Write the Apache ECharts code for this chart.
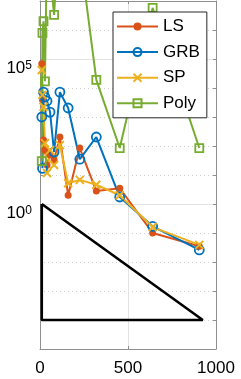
<!DOCTYPE html>
<html>
<head>
<meta charset="utf-8">
<script src="https://cdn.jsdelivr.net/npm/echarts@6/dist/echarts.min.js"></script>
<style>
html,body{margin:0;padding:0;background:#fff;}
#chart{width:241px;height:379px;}
</style>
</head>
<body>
<div id="chart"></div>
<script>
// ---- data ----
const xValues   = [10, 14, 20, 28, 40, 57, 80, 113, 160, 226, 320, 453, 640, 905];
const lsValues  = [6.8e4, 3.9e3, 160, 72, 22, 49, 33, 204, 2.0, 85, 2.8, 3.5, 0.1, 0.035];
const grbValues = [1000, 17, 7200, 4900, 3550, 1480, 62, 7200, 2040, 35, 204, 1.74, 0.17, 0.026];
const spValues  = [4.2e4, 5750, 2240, 126, 11.7, 72, 22, 107, 5.2, 6.8, 4.6, 2.0, 0.16, 0.039];
const polyValues= [30, 7.9e5, 2.0e6, 1.7e4, 1e9, 1e8, 3.3e6, 1e10, 1e10, 5e8, 1.9e4, 85, 5.8e6, 85];
const triangleX = [10, 10, 925, 10];
const triangleY = [1, 1e-4, 1e-4, 1];
const seriesNames = ['LS', 'GRB', 'SP', 'Poly'];
const xTicks = [0, 500, 1000];
const yLabelExponents = [0, 5];

const FONT = "'Liberation Sans', Arial, Helvetica, sans-serif";
const C = {LS:'#D95319', GRB:'#0072BD', SP:'#EDB120', Poly:'#77AC30'};
const pairs = (xs, ys) => xs.map((x, i) => [x, ys[i]]);
const AXIS = '#8f8f8f';

const chart = echarts.init(document.getElementById('chart'), null, {renderer:'canvas'});
const grid = {left:40, right:25, top:1, bottom:30, containLabel:false};

function mkSeries(name, vals, symbol, size, filled) {
  return {
    name, type:'line', data: pairs(xValues, vals),
    symbol, symbolSize:size, showSymbol:true, clip:true,
    lineStyle:{color:C[name], width:2},
    itemStyle: filled ? {color:C[name]} :
      {color:'rgba(255,255,255,0)', borderColor:C[name], borderWidth:1.8},
    color: C[name],
    emphasis:{disabled:true}, animation:false, z:3
  };
}

const option = {
  animation:false,
  grid,
  legend:{
    data: seriesNames, orient:'vertical', left:113, top:12,
    padding:[6,7,6,3], itemGap:8.6, itemWidth:41, itemHeight:10, itemTextGap:4,
    backgroundColor:'#fff', borderColor:'#262626', borderWidth:1,
    textStyle:{fontFamily:FONT, fontSize:17, color:'#000', lineHeight:17},
    selectedMode:false, z:10
  },
  xAxis:[{
    type:'value', min:xTicks[0], max:xTicks[xTicks.length-1], interval:500,
    axisLine:{show:true, onZero:false, lineStyle:{color:AXIS, width:1}},
    axisTick:{show:true, inside:true, length:3, lineStyle:{color:AXIS}},
    axisLabel:{fontFamily:FONT, fontSize:17, color:'#000', margin:11, formatter: v => String(v)},
    splitLine:{show:true, lineStyle:{color:'#e3e3e3', width:1}}
  },{
    type:'value', position:'top', min:0, max:1000, interval:500,
    axisLine:{show:true, onZero:false, lineStyle:{color:AXIS}},
    axisTick:{show:true, inside:true, length:3, lineStyle:{color:AXIS}},
    axisLabel:{show:false}, splitLine:{show:false}
  }],
  yAxis:[{
    type:'log', logBase:10, min:1e-5, max:1e7, interval:1, splitNumber:12,
    axisLine:{show:true, onZero:false, lineStyle:{color:AXIS}},
    axisTick:{show:true, inside:true, length:3, lineStyle:{color:AXIS}},
    axisLabel:{show:false},
    splitLine:{show:true, lineStyle:{color:'#cfcfcf', width:1, type:[1,3]}}
  },{
    type:'log', logBase:10, min:1e-5, max:1e7, interval:5, splitNumber:2,
    position:'left',
    axisLine:{show:false}, axisTick:{show:false},
    axisLabel:{
      show:true, margin:8, padding:[18,0,0,0],
      formatter: v => {
        const e = Math.round(Math.log10(v));
        return yLabelExponents.includes(e) ? '{b|10}{s|' + e + '}' : '';
      },
      rich:{
        b:{fontFamily:FONT, fontSize:17, lineHeight:17, color:'#000', verticalAlign:'bottom'},
        s:{fontFamily:FONT, fontSize:12, lineHeight:12, color:'#000', verticalAlign:'top', padding:[0,0,10,0]}
      }
    },
    splitLine:{show:true, lineStyle:{color:'#e3e3e3', width:1}}
  },{
    type:'log', logBase:10, min:1e-5, max:1e7, interval:1, splitNumber:12,
    position:'right',
    axisLine:{show:true, onZero:false, lineStyle:{color:AXIS}},
    axisTick:{show:true, inside:true, length:3, lineStyle:{color:AXIS}},
    axisLabel:{show:false}, splitLine:{show:false}
  }],
  series:[
    {
      name:'triangle', type:'line', data: pairs(triangleX, triangleY),
      symbol:'none', lineStyle:{color:'#000', width:2.6}, silent:true, z:2
    },
    mkSeries('LS', lsValues, 'circle', 7, true),
    mkSeries('GRB', grbValues, 'circle', 9, false),
    Object.assign(mkSeries('SP', spValues, 'path://M0,0L10,10M10,0L0,10', 8, false),
      {itemStyle:{color:'rgba(255,255,255,0)', borderColor:C.SP, borderWidth:2}}),
    mkSeries('Poly', polyValues, 'rect', 8, false)
  ]
};
chart.setOption(option);
</script>
</body>
</html>
